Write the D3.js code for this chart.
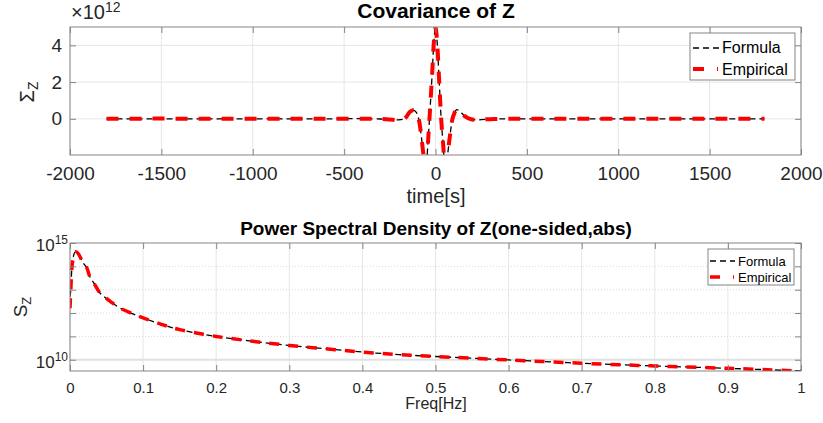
<!DOCTYPE html>
<html>
<head>
<meta charset="utf-8">
<script src="https://cdn.jsdelivr.net/npm/d3@7"></script>
<style>
body { margin: 0; background: #fff; }
text { font-family: "Liberation Sans", Arial, sans-serif; fill: #262626; }
</style>
</head>
<body>
<div id="chart"></div>
<script>
// covariance of Z, values in units of 1e12
var covTime = [-1800, -1600, -1400, -1200, -1000, -800, -600, -400, -300, -250, -205, -175, -160, -140, -118, -105, -92, -77, -62, -52, -42, -33, -18, -8, 0, 8, 18, 31, 42, 52, 62, 78, 93, 103, 115, 135, 160, 188, 220, 270, 320, 400, 600, 800, 1000, 1200, 1400, 1600, 1800];
var covFormula = [0, 0, 0, 0, 0, 0, 0, 0.01, -0.01, -0.03, -0.06, -0.02, 0.1, 0.38, 0.46, 0.35, 0, -1.0, -2.2, -2.55, -1.4, 0, 2.5, 4.3, 4.98, 4.3, 2.5, 0, -1.4, -2.55, -2.2, -1.0, 0, 0.3, 0.5, 0.4, 0.15, 0, -0.06, -0.03, -0.01, 0, 0, 0, 0, 0, 0, 0, 0];
var covEmpirical = [0, 0.01, 0.01, 0, 0, 0.01, 0, 0.01, -0.01, -0.04, -0.06, -0.02, 0.1, 0.38, 0.46, 0.35, 0, -1.0, -2.2, -2.55, -1.4, 0, 2.5, 4.3, 4.98, 4.3, 2.5, 0, -1.4, -2.55, -2.2, -1.0, 0, 0.3, 0.5, 0.4, 0.15, 0, -0.06, -0.03, -0.01, 0, 0, 0, 0.01, 0, 0.01, 0, 0];
var covTicksX = [-2000, -1500, -1000, -500, 0, 500, 1000, 1500, 2000];
var covTicksY = [0, 2, 4];

// power spectral density of Z
var psdFreq = [0, 0.001, 0.0025, 0.004, 0.0065, 0.0085, 0.0114, 0.018, 0.023, 0.027, 0.033, 0.041, 0.046, 0.055, 0.068, 0.085, 0.1, 0.125, 0.15, 0.2, 0.25, 0.3, 0.35, 0.4, 0.45, 0.5, 0.6, 0.7, 0.8, 0.9, 1.0];
var psdFormula = [5.0e12, 9.0e12, 7.9e13, 2.0e14, 3.98e14, 4.17e14, 3.47e14, 1.41e14, 8.7e13, 3.7e13, 1.86e13, 7.2e12, 5.25e12, 3.16e12, 1.66e12, 9.5e11, 6.2e11, 3.3e11, 1.95e11, 1.0e11, 6.2e10, 4.1e10, 2.95e10, 2.14e10, 1.66e10, 1.38e10, 9.8e9, 7.1e9, 5.4e9, 4.3e9, 3.3e9];
var psdEmpirical = [1.6e12, 7.9e12, 7.9e13, 2.0e14, 3.98e14, 4.17e14, 3.47e14, 1.41e14, 8.7e13, 3.7e13, 1.86e13, 7.2e12, 5.25e12, 3.16e12, 1.66e12, 9.5e11, 6.2e11, 3.3e11, 1.95e11, 1.0e11, 6.2e10, 4.1e10, 2.95e10, 2.14e10, 1.66e10, 1.38e10, 9.8e9, 7.1e9, 5.4e9, 4.3e9, 3.3e9];
var psdTicksX = [0, 0.1, 0.2, 0.3, 0.4, 0.5, 0.6, 0.7, 0.8, 0.9, 1];
var psdDecades = [1e10, 1e11, 1e12, 1e13, 1e14, 1e15];
var psdLabels = [{v: 1e10, e: "10"}, {v: 1e15, e: "15"}];

var seriesNames = ["Formula", "Empirical"];

var width = 823, height = 423;
var left = 70, right = 801;
var top1 = 27, bot1 = 155;
var top2 = 243, bot2 = 371;
var boxColor = "#858585";
var gridColor = "#e6e6e6";

var svg = d3.select("#chart").append("svg")
	.attr("width", width).attr("height", height);

function plainNum(d) { return String(d); }

// ---------- top: covariance ----------
var x1 = d3.scaleLinear().domain([-2000, 2000]).range([left, right]);
var y1 = d3.scaleLinear().domain([-1.97, 5.0]).range([bot1, top1]);

var g1 = svg.append("g");

g1.selectAll(".vgrid").data(covTicksX).enter().append("line")
	.attr("x1", function(d) { return x1(d); }).attr("x2", function(d) { return x1(d); })
	.attr("y1", top1).attr("y2", bot1)
	.style("stroke", gridColor);
g1.selectAll(".hgrid").data(covTicksY).enter().append("line")
	.attr("x1", left).attr("x2", right)
	.attr("y1", function(d) { return y1(d); }).attr("y2", function(d) { return y1(d); })
	.style("stroke", gridColor);

svg.append("clipPath").attr("id", "clip1").append("rect")
	.attr("x", left).attr("y", top1).attr("width", right - left).attr("height", bot1 - top1);

var covLine = d3.line()
	.x(function(d, i) { return x1(covTime[i]); })
	.y(function(d) { return y1(d); })
	.curve(d3.curveCatmullRom);

g1.append("path").attr("d", covLine(covFormula))
	.attr("clip-path", "url(#clip1)")
	.style("fill", "none").style("stroke", "#000")
	.style("stroke-width", 1.3).style("stroke-dasharray", "6,4");
g1.append("path").attr("d", covLine(covEmpirical))
	.attr("clip-path", "url(#clip1)")
	.style("fill", "none").style("stroke", "#ff0000")
	.style("stroke-width", 4).style("stroke-dasharray", "12,11");

function styleAxis(sel, size) {
	sel.select(".domain").remove();
	sel.selectAll(".tick line").style("stroke", boxColor);
	sel.selectAll(".tick text").style("font-size", size + "px")
		.style("font-family", "'Liberation Sans', Arial, sans-serif").style("fill", "#262626");
}

g1.append("g").attr("transform", "translate(0," + bot1 + ")")
	.call(d3.axisBottom(x1).tickValues(covTicksX).tickSize(-6).tickPadding(12).tickFormat(plainNum))
	.call(styleAxis, 19);
g1.append("g").attr("transform", "translate(0," + top1 + ")")
	.call(d3.axisTop(x1).tickValues(covTicksX).tickSize(-6).tickFormat(""))
	.call(styleAxis, 19);
g1.append("g").attr("transform", "translate(" + left + ",0)")
	.call(d3.axisLeft(y1).tickValues(covTicksY).tickSize(-6).tickPadding(8).tickFormat(plainNum))
	.call(styleAxis, 19);
g1.append("g").attr("transform", "translate(" + right + ",0)")
	.call(d3.axisRight(y1).tickValues(covTicksY).tickSize(-6).tickFormat(""))
	.call(styleAxis, 19);

g1.append("rect").attr("x", left).attr("y", top1)
	.attr("width", right - left).attr("height", bot1 - top1)
	.style("fill", "none").style("stroke", boxColor);

var expo = g1.append("text").attr("x", 71).attr("y", 19).style("font-size", "20px").text("\u00d710");
expo.append("tspan").attr("dy", -7).style("font-size", "14px").text("12");

g1.append("text").attr("x", 436).attr("y", 18).attr("text-anchor", "middle")
	.style("font-size", "21px").style("font-weight", "bold").style("fill", "#000")
	.text("Covariance of Z");
g1.append("text").attr("x", 436).attr("y", 203).attr("text-anchor", "middle")
	.style("font-size", "20px").text("time[s]");
var yl1 = g1.append("text").attr("transform", "translate(34,92) rotate(-90)")
	.attr("text-anchor", "middle").style("font-size", "20px").text("\u03a3");
yl1.append("tspan").attr("dy", 4).style("font-size", "14px").text("Z");

// legend top
var leg1 = g1.append("g");
leg1.append("rect").attr("x", 690).attr("y", 33).attr("width", 105).attr("height", 47)
	.style("fill", "#fff").style("stroke", boxColor);
leg1.append("line").attr("x1", 693).attr("x2", 720).attr("y1", 48).attr("y2", 48)
	.style("stroke", "#000").style("stroke-width", 1.3).style("stroke-dasharray", "6,4");
leg1.append("line").attr("x1", 693).attr("x2", 718).attr("y1", 69).attr("y2", 69)
	.style("stroke", "#ff0000").style("stroke-width", 4).style("stroke-dasharray", "11,13");
leg1.selectAll(".lt").data(seriesNames).enter().append("text")
	.attr("x", 722).attr("y", function(d, i) { return 53 + i * 22; })
	.style("font-size", "16px").style("fill", "#000").text(function(d) { return d; });

// ---------- bottom: PSD ----------
var x2 = d3.scaleLinear().domain([0, 1]).range([left, right]);
var y2 = d3.scaleLog().domain([3.3e9, 1e15]).range([bot2, top2]);

var g2 = svg.append("g");

g2.selectAll(".vgrid").data(psdTicksX).enter().append("line")
	.attr("x1", function(d) { return x2(d); }).attr("x2", function(d) { return x2(d); })
	.attr("y1", top2).attr("y2", bot2)
	.style("stroke", gridColor);
g2.selectAll(".hgrid").data(psdDecades.slice(1, 5)).enter().append("line")
	.attr("x1", left).attr("x2", right)
	.attr("y1", function(d) { return y2(d); }).attr("y2", function(d) { return y2(d); })
	.style("stroke", "#d8d8d8").style("stroke-dasharray", "1,2");
g2.append("line").attr("x1", left).attr("x2", right)
	.attr("y1", y2(psdLabels[0].v)).attr("y2", y2(psdLabels[0].v))
	.style("stroke", "#e0e0e0").style("stroke-width", 2);

svg.append("clipPath").attr("id", "clip2").append("rect")
	.attr("x", left).attr("y", top2).attr("width", right - left).attr("height", bot2 - top2);

var psdLine = function(vals) {
	return d3.line()
		.x(function(d, i) { return x2(psdFreq[i]); })
		.y(function(d) { return y2(d); })
		.curve(d3.curveCatmullRom)(vals);
};

g2.append("path").attr("d", psdLine(psdFormula))
	.attr("clip-path", "url(#clip2)")
	.style("fill", "none").style("stroke", "#000")
	.style("stroke-width", 1.3).style("stroke-dasharray", "6,4");
g2.append("path").attr("d", psdLine(psdEmpirical))
	.attr("clip-path", "url(#clip2)")
	.style("fill", "none").style("stroke", "#ff0000")
	.style("stroke-width", 3.5).style("stroke-dasharray", "10,9");

g2.append("g").attr("transform", "translate(0," + bot2 + ")")
	.call(d3.axisBottom(x2).tickValues(psdTicksX).tickSize(-6).tickPadding(11)
		.tickFormat(function(d) { return d === 0 || d === 1 ? String(d) : d3.format(".1f")(d); }))
	.call(styleAxis, 15);
g2.append("g").attr("transform", "translate(0," + top2 + ")")
	.call(d3.axisTop(x2).tickValues(psdTicksX).tickSize(-6).tickFormat(""))
	.call(styleAxis, 15);
g2.append("g").attr("transform", "translate(" + left + ",0)")
	.call(d3.axisLeft(y2).tickValues(psdDecades).tickSize(-6).tickFormat(""))
	.call(styleAxis, 15);
g2.append("g").attr("transform", "translate(" + right + ",0)")
	.call(d3.axisRight(y2).tickValues(psdDecades).tickSize(-6).tickFormat(""))
	.call(styleAxis, 15);

g2.selectAll(".ylab").data(psdLabels).enter().append("text")
	.attr("x", 68).attr("y", function(d) { return y2(d.v) + 8; })
	.attr("text-anchor", "end").style("font-size", "17px")
	.each(function(d) {
		d3.select(this).append("tspan").text("10");
		d3.select(this).append("tspan").attr("dy", -7).style("font-size", "12px").text(d.e);
	});

g2.append("rect").attr("x", left).attr("y", top2)
	.attr("width", right - left).attr("height", bot2 - top2)
	.style("fill", "none").style("stroke", boxColor);

g2.append("text").attr("x", 436).attr("y", 235).attr("text-anchor", "middle")
	.style("font-size", "19px").style("font-weight", "bold").style("fill", "#000")
	.text("Power Spectral Density of Z(one-sided,abs)");
g2.append("text").attr("x", 436).attr("y", 409).attr("text-anchor", "middle")
	.style("font-size", "16px").text("Freq[Hz]");
var yl2 = g2.append("text").attr("transform", "translate(27,307) rotate(-90)")
	.attr("text-anchor", "middle").style("font-size", "19px").text("S");
yl2.append("tspan").attr("dy", 4).style("font-size", "13px").text("Z");

// legend bottom
var leg2 = g2.append("g");
leg2.append("rect").attr("x", 708).attr("y", 249).attr("width", 86).attr("height", 36)
	.style("fill", "#fff").style("stroke", boxColor);
leg2.append("line").attr("x1", 710).attr("x2", 735).attr("y1", 261).attr("y2", 261)
	.style("stroke", "#000").style("stroke-width", 1.3).style("stroke-dasharray", "6,4");
leg2.append("line").attr("x1", 710).attr("x2", 734).attr("y1", 277).attr("y2", 277)
	.style("stroke", "#ff0000").style("stroke-width", 3.5).style("stroke-dasharray", "10,13");
leg2.selectAll(".lt").data(seriesNames).enter().append("text")
	.attr("x", 738).attr("y", function(d, i) { return 266 + i * 16; })
	.style("font-size", "13px").style("fill", "#000").text(function(d) { return d; });
</script>
</body>
</html>
